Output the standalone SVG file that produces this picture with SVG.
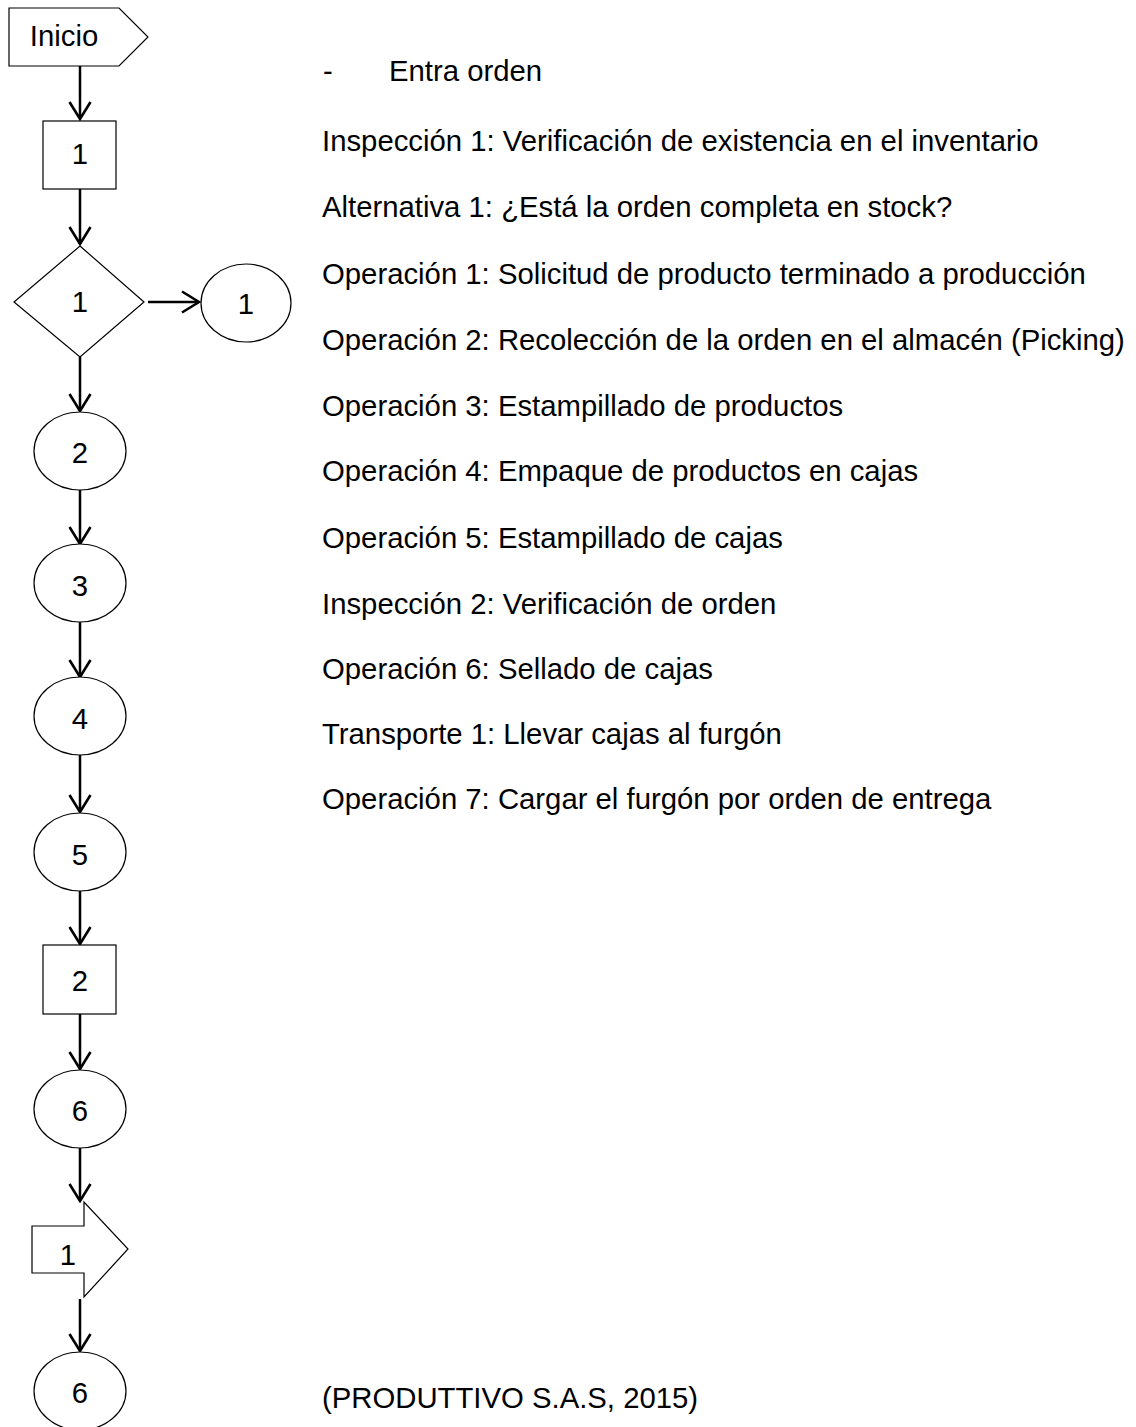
<svg xmlns="http://www.w3.org/2000/svg" width="1136" height="1427" viewBox="0 0 1136 1427">
<style>
.s{fill:#fff;stroke:#000;stroke-width:1.2}
.l{font-family:"Liberation Sans",Arial,sans-serif;font-size:29.3px;fill:#000;text-anchor:middle}
.t{font-family:"Liberation Sans",Arial,sans-serif;font-size:29.3px;fill:#000}
.c{stroke:#000;stroke-width:2.5;fill:none}
</style>
<defs>
<marker id="a" markerUnits="userSpaceOnUse" viewBox="-20 -13 22 26" refX="0" refY="0" markerWidth="22" markerHeight="26" orient="auto">
<path d="M-17,-10.5 L0,0 L-17,10.5" fill="none" stroke="#000" stroke-width="2.6"/>
</marker>
</defs>
<rect width="1136" height="1427" fill="#fff"/>
<g id="connectors">
<line class="c" x1="80" y1="66" x2="80" y2="119" marker-end="url(#a)"/>
<line class="c" x1="80" y1="189" x2="80" y2="244" marker-end="url(#a)"/>
<line class="c" x1="148" y1="302" x2="199" y2="302" marker-end="url(#a)"/>
<line class="c" x1="80" y1="357" x2="80" y2="411" marker-end="url(#a)"/>
<line class="c" x1="80" y1="490" x2="80" y2="544" marker-end="url(#a)"/>
<line class="c" x1="80" y1="622" x2="80" y2="677" marker-end="url(#a)"/>
<line class="c" x1="80" y1="755" x2="80" y2="812" marker-end="url(#a)"/>
<line class="c" x1="80" y1="891" x2="80" y2="944" marker-end="url(#a)"/>
<line class="c" x1="80" y1="1014" x2="80" y2="1069" marker-end="url(#a)"/>
<line class="c" x1="80" y1="1148" x2="80" y2="1201" marker-end="url(#a)"/>
<line class="c" x1="80" y1="1299" x2="80" y2="1351" marker-end="url(#a)"/>
</g>
<g id="inicio"><polygon class="s" points="9,8 119,8 148,37 119,66 9,66"/><text class="l" x="64" y="46">Inicio</text></g>
<g id="insp1"><rect class="s" x="43" y="121" width="73" height="68"/><text class="l" x="80" y="164">1</text></g>
<g id="alt1"><polygon class="s" points="80,246 144,302 80,357 14,302"/><text class="l" x="80" y="312">1</text></g>
<g id="op1"><ellipse class="s" cx="246" cy="303" rx="45" ry="39"/><text class="l" x="246" y="314">1</text></g>
<g id="op2"><ellipse class="s" cx="80" cy="451" rx="46" ry="39"/><text class="l" x="80" y="463">2</text></g>
<g id="op3"><ellipse class="s" cx="80" cy="583" rx="46" ry="39"/><text class="l" x="80" y="596">3</text></g>
<g id="op4"><ellipse class="s" cx="80" cy="716" rx="46" ry="39"/><text class="l" x="80" y="729">4</text></g>
<g id="op5"><ellipse class="s" cx="80" cy="852" rx="46" ry="39"/><text class="l" x="80" y="865">5</text></g>
<g id="insp2"><rect class="s" x="43" y="945" width="73" height="69"/><text class="l" x="80" y="991">2</text></g>
<g id="op6"><ellipse class="s" cx="80" cy="1109" rx="46" ry="39"/><text class="l" x="80" y="1121">6</text></g>
<g id="trans1"><polygon class="s" points="32,1226 84,1226 84,1202 128,1249 84,1297 84,1273 32,1273"/><text class="l" x="68" y="1265">1</text></g>
<g id="op7"><ellipse class="s" cx="80" cy="1391" rx="46" ry="39"/><text class="l" x="80" y="1403">6</text></g>
<g id="legend">
<text class="t" x="323" y="81">-</text>
<text class="t" x="389" y="81">Entra orden</text>
<text class="t" x="322" y="151">Inspección 1: Verificación de existencia en el inventario</text>
<text class="t" x="322" y="217">Alternativa 1: ¿Está la orden completa en stock?</text>
<text class="t" x="322" y="284">Operación 1: Solicitud de producto terminado a producción</text>
<text class="t" x="322" y="350">Operación 2: Recolección de la orden en el almacén (Picking)</text>
<text class="t" x="322" y="416">Operación 3: Estampillado de productos</text>
<text class="t" x="322" y="481">Operación 4: Empaque de productos en cajas</text>
<text class="t" x="322" y="548">Operación 5: Estampillado de cajas</text>
<text class="t" x="322" y="614">Inspección 2: Verificación de orden</text>
<text class="t" x="322" y="679">Operación 6: Sellado de cajas</text>
<text class="t" x="322" y="744">Transporte 1: Llevar cajas al furgón</text>
<text class="t" x="322" y="809">Operación 7: Cargar el furgón por orden de entrega</text>
<text class="t" x="322" y="1408">(PRODUTTIVO S.A.S, 2015)</text>
</g>
</svg>
